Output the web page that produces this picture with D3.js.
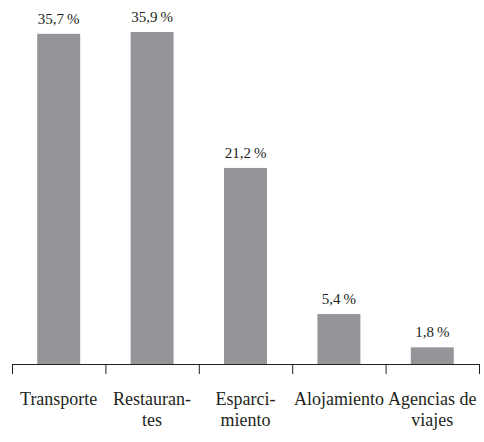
<!DOCTYPE html>
<html>
<head>
<meta charset="utf-8">
<script src="https://cdn.jsdelivr.net/npm/d3@7"></script>
<style>
  body { margin: 0; background: #fff; }
</style>
</head>
<body>
<div id="chart"></div>
<script>
const width = 484;
const height = 442;

const categories = ["Transporte", "Restaurantes", "Esparcimiento", "Alojamiento", "Agencias de viajes"];
const categoryLines = [["Transporte"], ["Restauran-", "tes"], ["Esparci-", "miento"], ["Alojamiento"], ["Agencias de", "viajes"]];
const values = [35.7, 35.9, 21.2, 5.4, 1.8];
const valueLabels = ["35,7\u2009%", "35,9\u2009%", "21,2\u2009%", "5,4\u2009%", "1,8\u2009%"];

const plotLeft = 12, plotRight = 479, plotBase = 364, plotTop = 32;
const serif = "'Liberation Serif', 'Times New Roman', serif";
const ink = "#231f20";

const svg = d3.select("#chart")
  .append("svg")
  .attr("width", width)
  .attr("height", height)
  .attr("font-family", serif);

const xBand = d3.scaleBand()
  .domain(categories)
  .range([plotLeft, plotRight])
  .paddingInner(0.54)
  .paddingOuter(0.27);

const xEdge = d3.scaleLinear()
  .domain([0, categories.length])
  .range([plotLeft, plotRight]);

const yScale = d3.scaleLinear()
  .domain([0, d3.max(values)])
  .range([plotBase, plotTop]);

// bars
svg.selectAll("rect.bar")
  .data(values)
  .join("rect")
  .attr("class", "bar")
  .attr("x", (d, i) => xBand(categories[i]))
  .attr("width", xBand.bandwidth())
  .attr("y", d => yScale(d))
  .attr("height", d => plotBase - yScale(d))
  .attr("fill", "#939598");

// value labels
svg.selectAll("text.val")
  .data(values)
  .join("text")
  .attr("class", "val")
  .attr("x", (d, i) => xBand(categories[i]) + xBand.bandwidth() / 2)
  .attr("y", d => yScale(d) - 10)
  .attr("text-anchor", "middle")
  .attr("font-family", serif)
  .attr("font-size", 15)
  .attr("fill", ink)
  .text((d, i) => valueLabels[i]);

// axis with ticks at band edges
const axis = d3.axisBottom(xEdge)
  .tickValues(d3.range(categories.length + 1))
  .tickSize(10)
  .tickSizeOuter(0)
  .tickFormat("");

const gAxis = svg.append("g")
  .attr("transform", `translate(0, ${plotBase})`)
  .call(axis);
gAxis.selectAll("path, line").attr("stroke", ink).attr("stroke-width", 1);

// category labels
const labels = svg.selectAll("text.cat")
  .data(categoryLines)
  .join("text")
  .attr("class", "cat")
  .attr("text-anchor", "middle")
  .attr("font-family", serif)
  .attr("font-size", 18)
  .attr("fill", ink);

labels.each(function(lines, i) {
  const cx = xBand(categories[i]) + xBand.bandwidth() / 2;
  d3.select(this).selectAll("tspan")
    .data(lines)
    .join("tspan")
    .attr("x", cx)
    .attr("y", (d, j) => 405 + j * 21)
    .text(d => d);
});
</script>
</body>
</html>
